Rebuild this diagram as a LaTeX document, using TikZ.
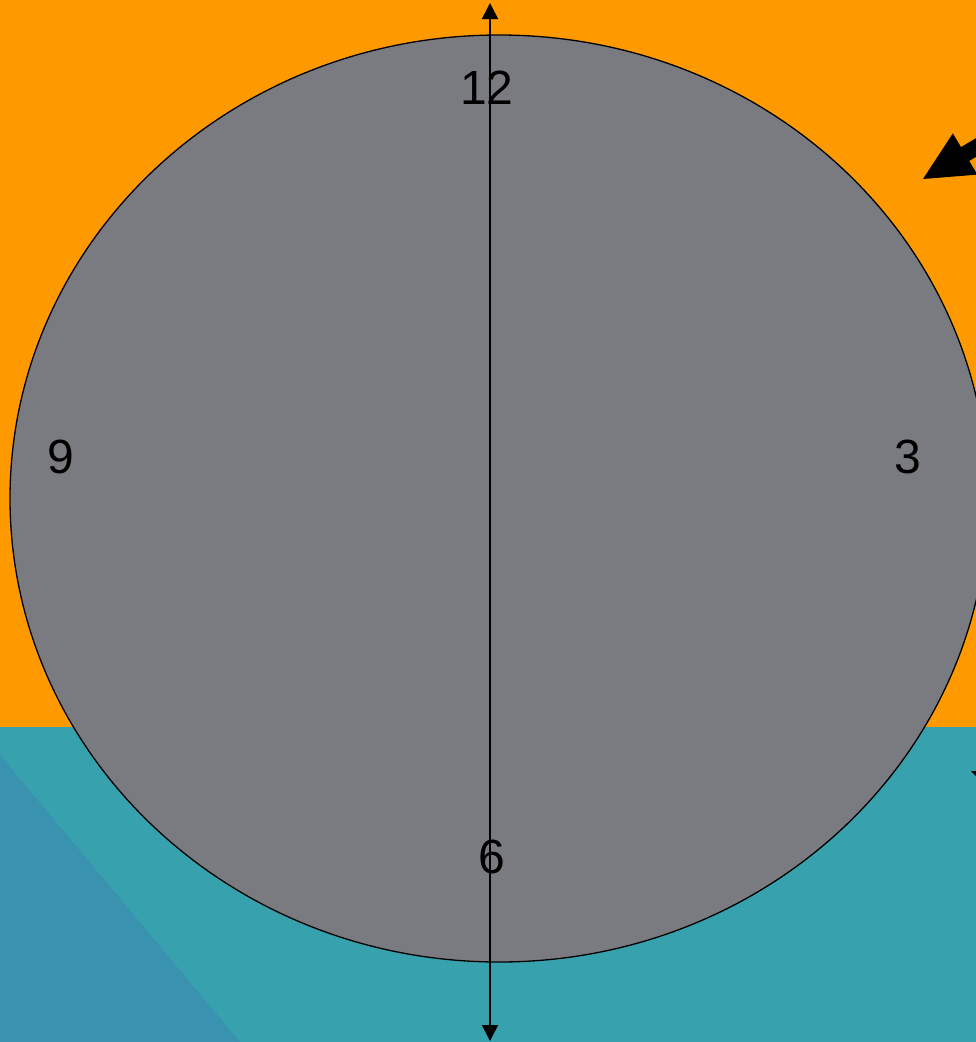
\documentclass[tikz,border=0pt]{standalone}
\usepackage{fontspec}
\setmainfont{Liberation Sans}
\usetikzlibrary{arrows.meta}
\definecolor{bgorange}{HTML}{FF9900}
\definecolor{seateal}{HTML}{38A1AE}
\definecolor{deepblue}{HTML}{3993B0}
\definecolor{facegray}{HTML}{7A7B80}
\begin{document}
\begin{tikzpicture}[x=1pt,y=-1pt,
  num/.style={font=\fontsize{48}{48}\selectfont, text=black, inner sep=0pt},
  axisline/.style={line width=1.5pt, {Triangle[length=16pt,width=16pt]}-{Triangle[length=16pt,width=16pt]}},
  pointer/.style={fill=black}]
\useasboundingbox (0,0) rectangle (976,1042);
\clip (0,0) rectangle (976,1042);
% background
\fill[bgorange] (0,0) rectangle (976,727);
\fill[seateal] (0,727) rectangle (976,1042);
\fill[deepblue] (0,755) -- (240,1042) -- (0,1042) -- cycle;
% clock face
\draw[fill=facegray, line width=1.3pt] (499,498.5) ellipse [x radius=489, y radius=463.5];
% numerals
\node[num] (n12) at (487,88) {12};
\node[num] (n9) at (61,457) {9};
\node[num] (n3) at (908,457) {3};
\node[num] (n6) at (492,857) {6};
% vertical axis
\coordinate (top) at (490,3);
\coordinate (bot) at (490,1041);
\draw[axisline] (top) -- (bot);
% big pointer arrow top right
\fill[pointer] (923,179) -- (952.8,133.4) -- (961.0,147.1) -- (1046.9,96.0) -- (1055.1,109.8) -- (969.2,160.9) -- (977.4,174.6) -- cycle;
% small arrow tip at right edge
\fill[pointer] (971,771) -- (977,771) -- (977,777) -- cycle;
\end{tikzpicture}
\end{document}
